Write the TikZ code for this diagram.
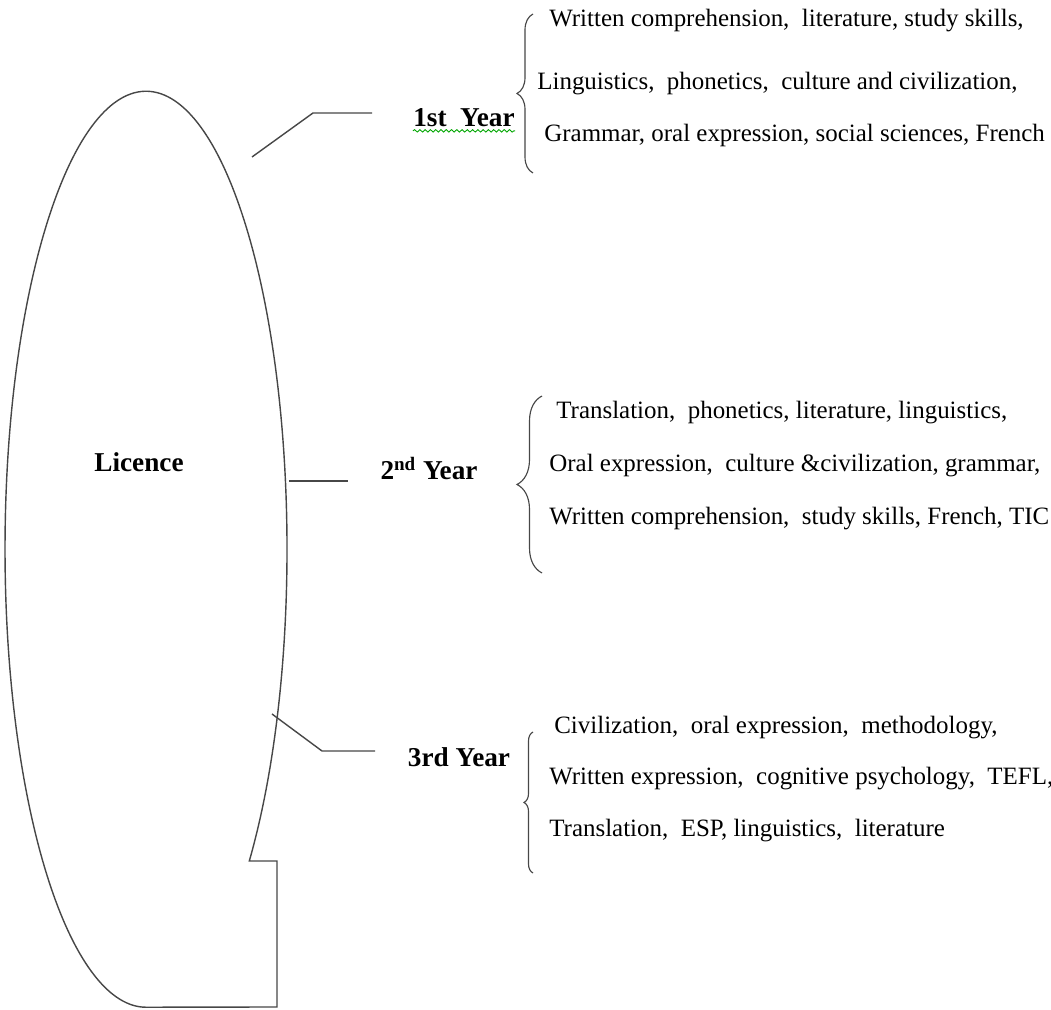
\documentclass[tikz,border=0pt]{standalone}
\usepackage{fontspec}
\setmainfont{Liberation Serif}
\usetikzlibrary{decorations.pathreplacing,decorations.pathmorphing}
\tikzset{
  outline/.style={draw=black!72, line width=0.8pt},
  yearlabel/.style={font=\fontsize{15.5}{18}\selectfont\bfseries, inner sep=0pt, anchor=base},
  course/.style={font=\fontsize{14.2}{17}\selectfont, inner sep=0pt, anchor=base west},
  bracket/.style={draw=black!72, line width=0.65pt, decorate, decoration={brace, amplitude=#1}},
}
\begin{document}
\begin{tikzpicture}[x=0.02cm, y=0.02cm]
  \useasboundingbox (0,0) rectangle (1051,1010);
  % licence outline
  \draw[outline] (249.3,149) arc[start angle=-42.9, end angle=270, x radius=141, y radius=458]
    -- (277,3) -- (277,149) -- cycle;
  \node[yearlabel] (licence) at (139,538) {Licence};
  % years
  \node[yearlabel] (first) at (464,883) {1st\ \ Year};
  \node[yearlabel] (second) at (429,530) {2\textsuperscript{nd} Year};
  \node[yearlabel] (third) at (459,243) {3rd Year};
  \draw[green!65!black, line width=0.5pt, decorate, decoration={snake, amplitude=0.7pt, segment length=3pt}]
    ([yshift=-2.2pt]first.base west) -- ([yshift=-2.2pt]first.base east);
  \coordinate (out1) at (252,853); \coordinate (in1) at (372,897);
  \coordinate (out2) at (289,529); \coordinate (in2) at (348,529);
  \coordinate (out3) at (272,296); \coordinate (in3) at (375,259);
  \draw[outline] (out1) -- (313,897) -- (in1);
  \draw[outline] (out2) -- (in2);
  \draw[outline] (out3) -- (322,259) -- (in3);
  % braces
  \draw[bracket=0.32cm] (533,837) -- (533,996);
  \draw[bracket=0.5cm] (542,437) -- (542,614);
  \draw[bracket=0.18cm] (533,137) -- (533,278);
  % first year courses
  \node[course] (f1) at (549,983) {Written comprehension,\ \ literature, study skills,};
  \node[course] (f2) at (537,920) {Linguistics,\ \ phonetics,\ \ culture and civilization,};
  \node[course] (f3) at (544,868) {Grammar, oral expression, social sciences, French};
  % second year courses
  \node[course] (s1) at (556,591) {Translation,\ \ phonetics, literature, linguistics,};
  \node[course] (s2) at (549,538) {Oral expression,\ \ culture \&civilization, grammar,};
  \node[course] (s3) at (549,485) {Written comprehension,\ \ study skills, French, TIC};
  % third year courses
  \node[course] (t1) at (554,276) {Civilization,\ \ oral expression,\ \ methodology,};
  \node[course] (t2) at (549,225) {Written expression,\ \ cognitive psychology,\ \ TEFL,};
  \node[course] (t3) at (549,173) {Translation,\ \ ESP, linguistics,\ \ literature};
\end{tikzpicture}
\end{document}
